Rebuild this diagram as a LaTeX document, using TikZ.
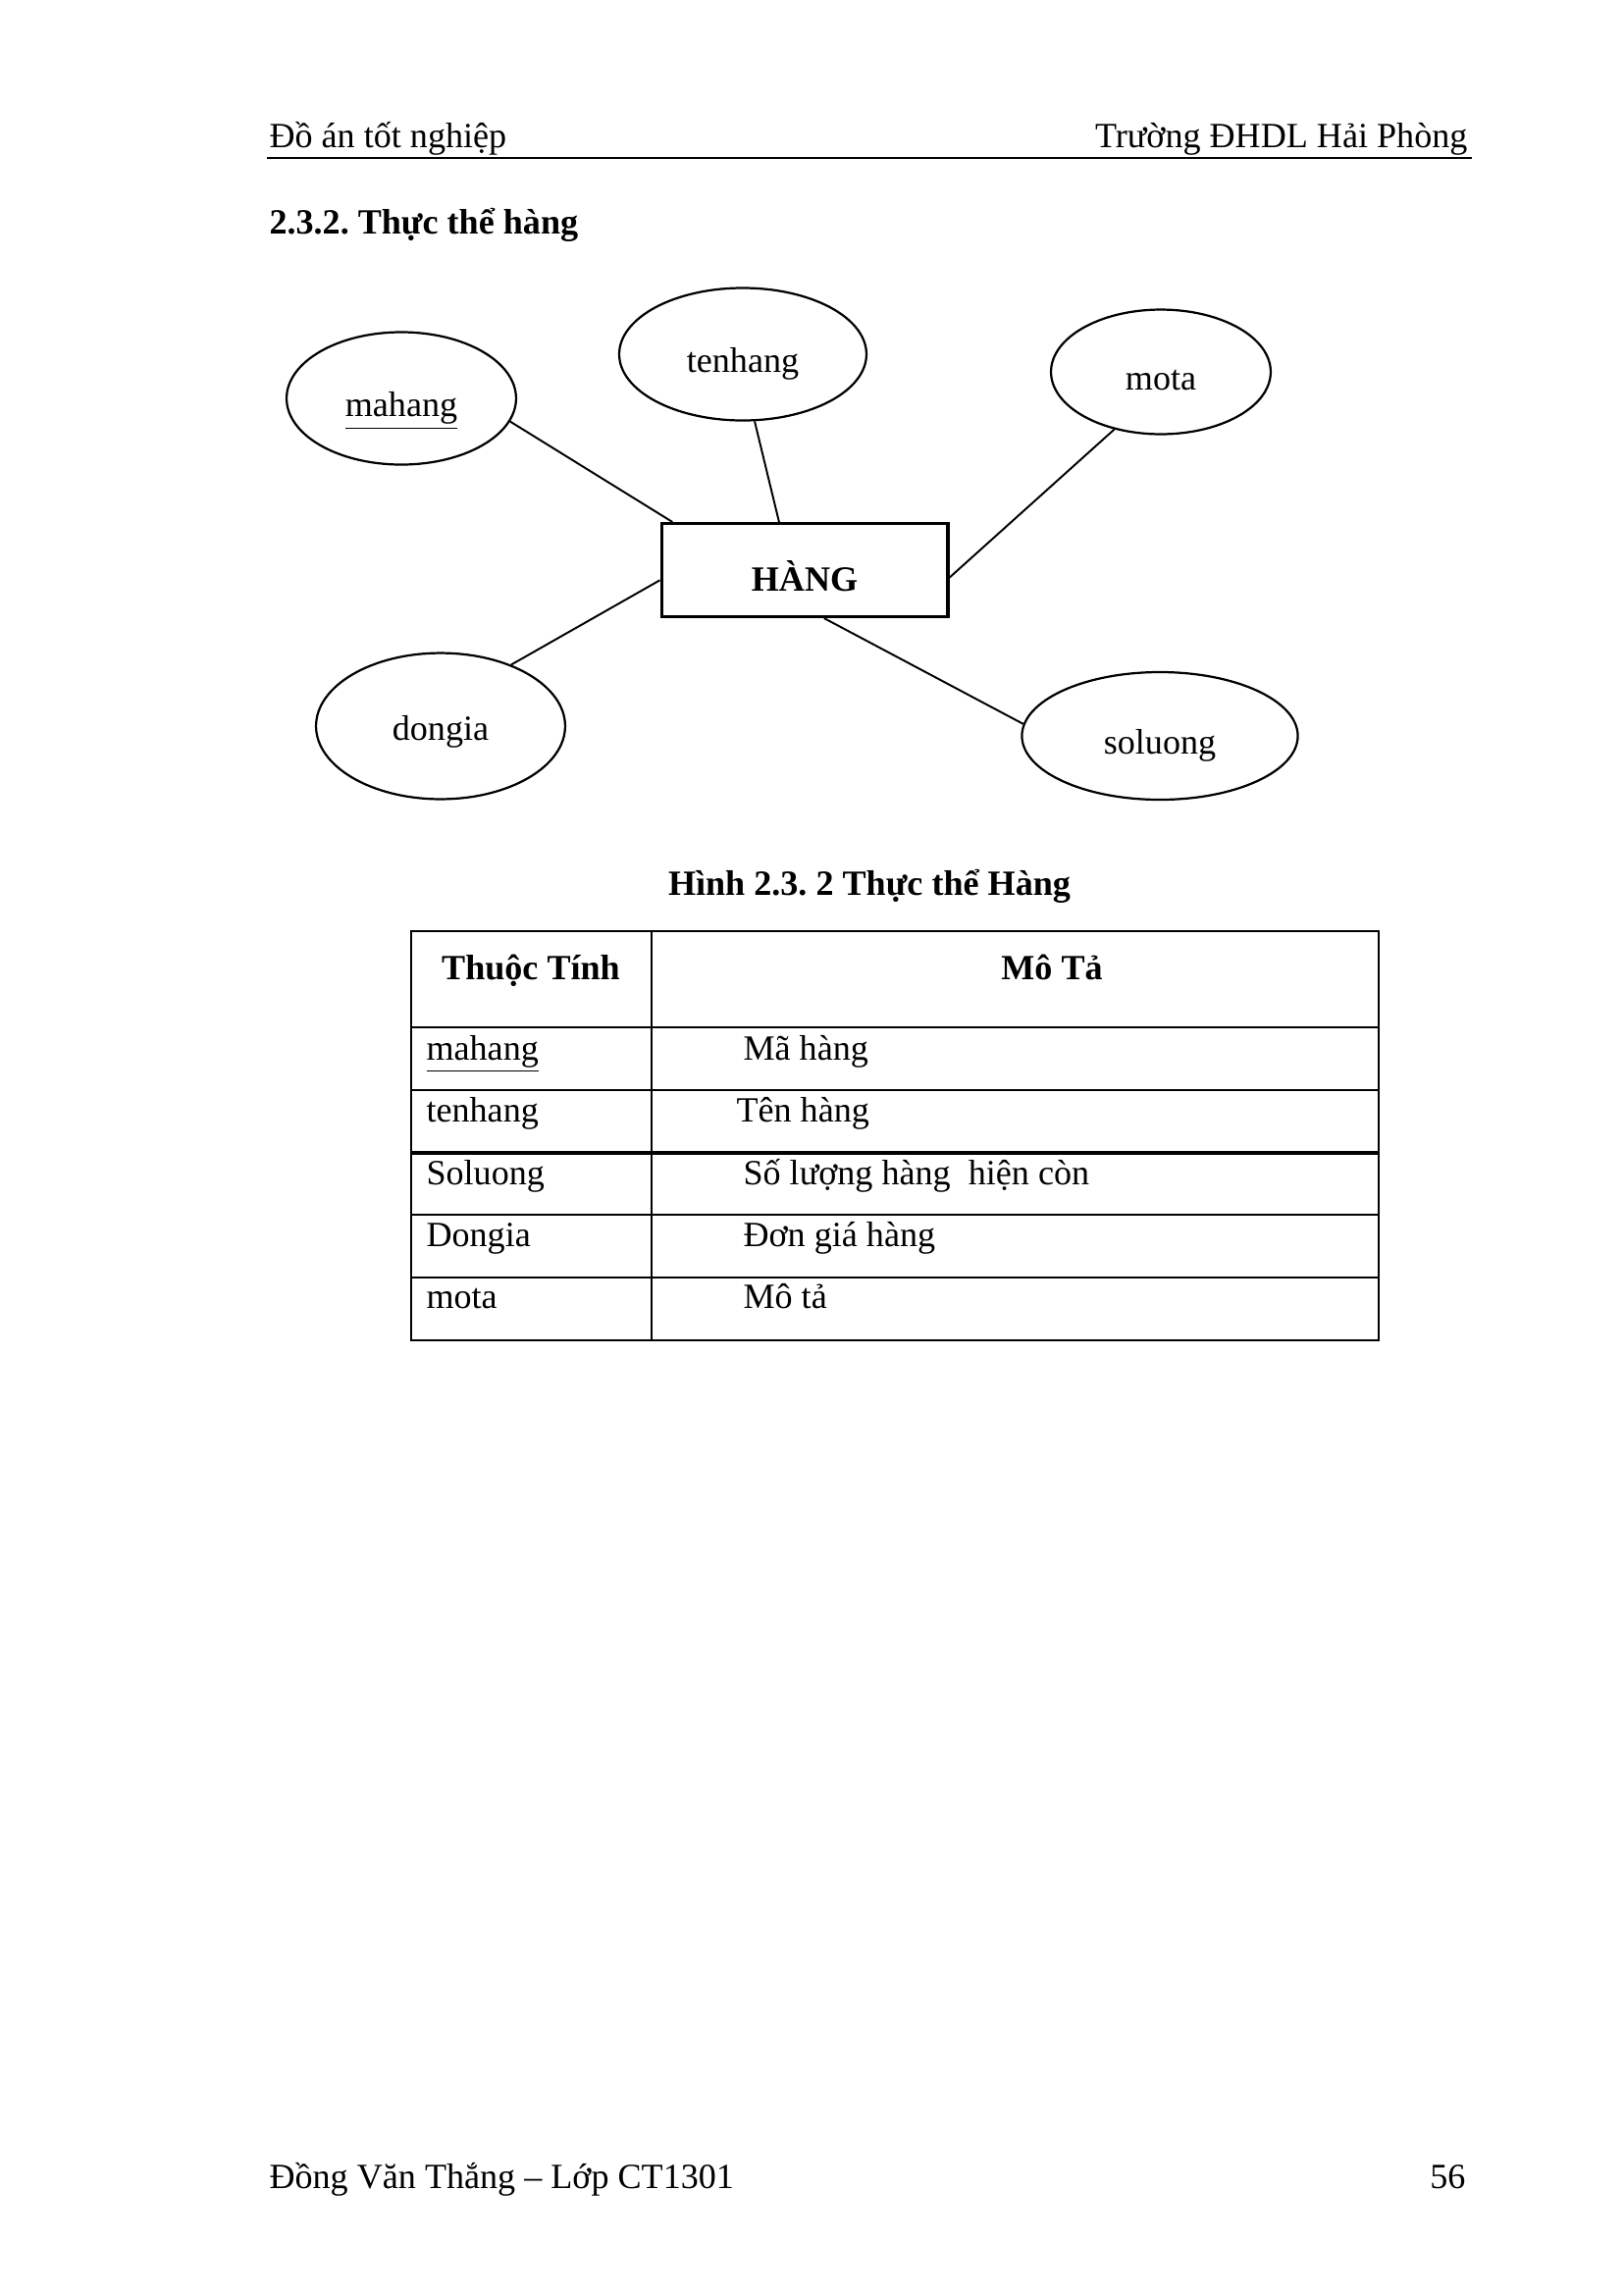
\documentclass[tikz,border=0pt]{standalone}
\usepackage{fontspec}
\setmainfont{Liberation Serif}
\usetikzlibrary{shapes.geometric}
\frenchspacing

\tikzset{
  chu/.style={inner sep=0pt, font=\fontsize{13}{15}\selectfont},
  chudam/.style={inner sep=0pt, font=\fontsize{13}{15}\selectfont\bfseries},
  thuoctinh/.style={draw=black, ellipse, inner sep=0pt, line width=0.8pt,
    text height=13.5pt, text depth=0pt, font=\fontsize{13}{15}\selectfont},
  thucthe/.style={draw=black, rectangle, inner sep=0pt, line width=1.1pt,
    minimum width=105.1pt, minimum height=34.2pt, text height=15.8pt, text depth=0pt,
    font=\fontsize{13}{15}\selectfont\bfseries},
  lienket/.style={line width=0.7pt},
  ke/.style={line width=0.75pt}
}

\begin{document}
\begin{tikzpicture}[x=0.36pt, y=-0.36pt]
	\fill[white] (0,0) rectangle (1654,2339);
	\useasboundingbox (0,0) rectangle (1654,2339);

	% dau trang
	\node[chu, anchor=base west] (dautrai) at (274,150) {Đồ án tốt nghiệp};
	\node[chu, anchor=base east] (dauphai) at (1496,150) {Trường ĐHDL Hải Phòng};
	\draw[line width=0.5pt] (272,161) -- (1500,161);
	\node[chudam, anchor=base west] (tieude) at (274,238) {2.3.2. Thực thể hàng};

	% so do thuc the
	\node[thucthe] (hang) at (820,581) {HÀNG};
	\node[thuoctinh, minimum width=84.2pt, minimum height=48.6pt] (mahang) at (409,406) {\underline{mahang}};
	\node[thuoctinh, minimum width=90.7pt, minimum height=48.6pt] (tenhang) at (757,361) {tenhang};
	\node[thuoctinh, minimum width=80.6pt, minimum height=45.7pt] (mota) at (1183,379) {mota};
	\node[thuoctinh, minimum width=91.4pt, minimum height=53.6pt, text height=10.5pt] (dongia) at (449,740) {dongia};
	\node[thuoctinh, minimum width=101.2pt, minimum height=46.8pt] (soluong) at (1182,750) {soluong};

	\draw[lienket] (mahang.-12) -- (hang.160);
	\draw[lienket] (tenhang.-80) -- (hang.118);
	\draw[lienket] (mota.-129) -- (hang.-3);
	\draw[lienket] (dongia.41) -- (hang.184);
	\draw[lienket] (soluong.175) -- (hang.-68);

	\node[chudam, anchor=base] (hinh) at (886,912) {Hình 2.3. 2 Thực thể Hàng};

	% bang thuoc tinh
	\draw[ke] (419,949) rectangle (1405,1366);
	\draw[ke] (664,949) -- (664,1366);
	\foreach \y in {1047,1111,1238,1302}
		\draw[ke] (419,\y) -- (1405,\y);
	\draw[line width=1.3pt] (419,1175) -- (1405,1175);

	\node[chudam, anchor=base] (cot1) at (541,998) {Thuộc Tính};
	\node[chudam, anchor=base] (cot2) at (1072,998) {Mô Tả};

	\node[chu, anchor=base west] (t1) at (434,1080) {\underline{mahang}};
	\node[chu, anchor=base west] (t2) at (434,1143) {tenhang};
	\node[chu, anchor=base west] (t3) at (434,1207) {Soluong};
	\node[chu, anchor=base west] (t4) at (434,1270) {Dongia};
	\node[chu, anchor=base west] (t5) at (434,1333) {mota};

	\node[chu, anchor=base west] (m1) at (757,1080) {Mã hàng};
	\node[chu, anchor=base west] (m2) at (750,1143) {Tên hàng};
	\node[chu, anchor=base west] (m3) at (757,1207) {Số lượng hàng~ hiện còn};
	\node[chu, anchor=base west] (m4) at (757,1270) {Đơn giá hàng};
	\node[chu, anchor=base west] (m5) at (757,1333) {Mô tả};

	% chan trang
	\node[chu, anchor=base west] (chantrai) at (274,2230) {Đồng Văn Thắng – Lớp CT1301};
	\node[chu, anchor=base east] (chanphai) at (1494,2230) {56};
\end{tikzpicture}
\end{document}
